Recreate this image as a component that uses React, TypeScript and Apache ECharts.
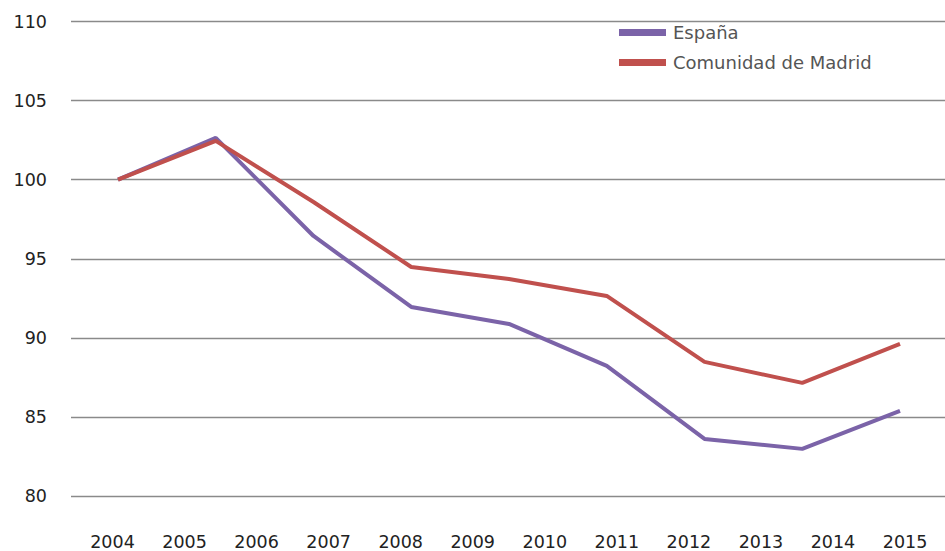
import React, { useEffect, useRef } from "react";
import * as echarts from "echarts";

const yearLabels = [2004, 2005, 2006, 2007, 2008, 2009, 2010, 2011, 2012, 2013, 2014, 2015];
const points = ["1", "2", "3", "4", "5", "6", "7", "8", "9"];
const espana = [100, 102.64, 96.44, 91.95, 90.88, 88.23, 83.61, 82.98, 85.38];
const madrid = [100, 102.45, 98.59, 94.48, 93.72, 92.65, 88.48, 87.15, 89.62];
const yTicks = { min: 80, max: 110, interval: 5 };

const FONT = "'DejaVu Sans', sans-serif";

export default function App() {
  const ref = useRef<HTMLDivElement>(null);
  useEffect(() => {
    if (!ref.current) return;
    const chart = echarts.init(ref.current, null, { renderer: "svg" });
    chart.setOption({
      animation: false,
      backgroundColor: "#ffffff",
      legend: {
        orient: "vertical",
        left: 619,
        top: 23.5,
        padding: 0,
        itemWidth: 47,
        itemHeight: 7,
        itemGap: 12,
        icon: "rect",
        textStyle: { color: "#555", fontSize: 18, fontFamily: FONT, padding: [0, 0, 0, 2] },
        data: ["España", "Comunidad de Madrid"],
      },
      grid: [
        { left: 71, right: 0, top: 21.5, bottom: 55 },
        { left: 118, right: 45, top: 21.5, bottom: 55 },
      ],
      xAxis: [
        {
          type: "value",
          gridIndex: 0,
          min: 2003.424,
          max: 2015.555,
          axisLine: { show: false },
          axisTick: { show: false },
          splitLine: { show: false },
          axisLabel: {
            customValues: yearLabels,
            formatter: (v: number) => String(v),
            color: "#222",
            fontSize: 17.5,
            fontFamily: FONT,
            margin: 37,
          },
        },
        {
          type: "category",
          gridIndex: 1,
          data: points,
          boundaryGap: false,
          show: false,
        },
      ],
      yAxis: [
        {
          type: "value",
          gridIndex: 0,
          min: yTicks.min,
          max: yTicks.max,
          interval: yTicks.interval,
          axisLine: { show: false },
          axisTick: { show: false },
          axisLabel: { color: "#222", fontSize: 17.5, fontFamily: FONT, margin: 24 },
          splitLine: { lineStyle: { color: "#8a8a8a", width: 1.3 } },
        },
        {
          type: "value",
          gridIndex: 1,
          min: yTicks.min,
          max: yTicks.max,
          show: false,
          splitLine: { show: false },
        },
      ],
      series: [
        {
          name: "España",
          type: "line",
          xAxisIndex: 1,
          yAxisIndex: 1,
          data: espana,
          symbol: "none",
          color: "#7B63A8",
          lineStyle: { width: 4, color: "#7B63A8" },
        },
        {
          name: "Comunidad de Madrid",
          type: "line",
          xAxisIndex: 1,
          yAxisIndex: 1,
          data: madrid,
          symbol: "none",
          color: "#C0504D",
          lineStyle: { width: 4, color: "#C0504D" },
        },
      ],
    });
    return () => chart.dispose();
  }, []);
  return <div ref={ref} style={{ width: 945, height: 551, position: "absolute", left: 0, top: 0 }} />;
}
